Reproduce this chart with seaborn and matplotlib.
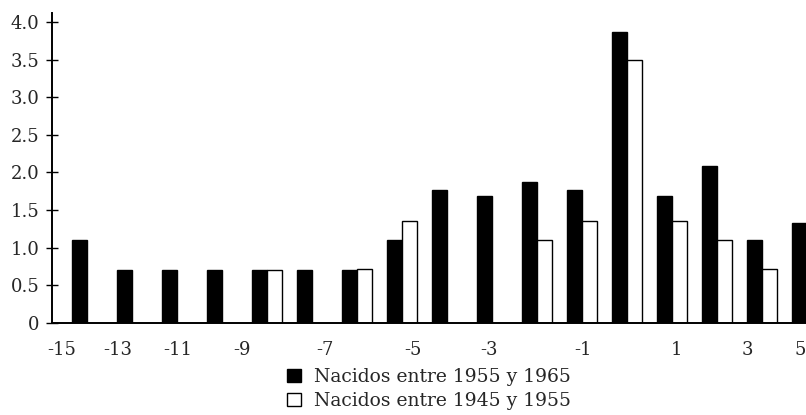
import numpy as np
import pandas as pd
import matplotlib
matplotlib.use("Agg")
import matplotlib.pyplot as plt
import seaborn as sns

# Grupos de barras (17 posiciones en el eje x)
grupos = [str(i) for i in range(17)]
nacidos_55_65 = [1.1, 0.7, 0.7, 0.7, 0.7, 0.7, 0.7, 1.1, 1.77, 1.68, 1.87,
                 1.77, 3.86, 1.68, 2.08, 1.1, 1.33]
nacidos_45_55 = [np.nan, np.nan, np.nan, np.nan, 0.7, np.nan, 0.71, 1.36, np.nan, np.nan, 1.1,
                 1.36, 3.5, 1.36, 1.1, 0.72, np.nan]
serie_a = "Nacidos entre 1955 y 1965"
serie_b = "Nacidos entre 1945 y 1955"
x_labels = ["-15", "-13", "-11", "-9", "-7", "-5", "-3", "-1", "1", "3", "5"]
y_ticks = [0, 0.5, 1.0, 1.5, 2.0, 2.5, 3.0, 3.5, 4.0]
y_labels = ["0", "0.5", "1.0", "1.5", "2.0", "2.5", "3.0", "3.5", "4.0"]

df = pd.DataFrame({
    "grupo": grupos * 2,
    "valor": nacidos_55_65 + nacidos_45_55,
    "serie": [serie_a] * len(grupos) + [serie_b] * len(grupos),
})

sns.set_style("white")
plt.rcParams["font.family"] = ["DejaVu Serif"]

fig, ax = plt.subplots(figsize=(8.06, 4.15), dpi=100)
fig.subplots_adjust(left=0.0645, right=1.0, top=0.969, bottom=0.222)

sns.barplot(data=df, x="grupo", y="valor", hue="serie", order=grupos,
            hue_order=[serie_a, serie_b],
            palette={serie_a: "black", serie_b: "white"},
            edgecolor="black", linewidth=1, width=0.667,
            errorbar=None, ax=ax)

ax.set_xlim(-0.78, 15.98)
ax.set_ylim(0, 4.12)
ax.set_yticks(y_ticks)
ax.set_yticklabels(y_labels, fontsize=13)
tick_pos = [-0.56, 0.69, 2.02, 3.44, 5.29, 7.24, 8.93, 11.02, 13.1, 14.67, 15.84]
ax.set_xticks(tick_pos)
ax.set_xticklabels(x_labels, fontsize=13)
ax.tick_params(axis="x", length=0, pad=13)
ax.tick_params(axis="y", left=True, direction="inout", length=8, width=1,
               pad=5, color="black")
ax.set_xlabel("")
ax.set_ylabel("")

for s in ["top", "right"]:
    ax.spines[s].set_visible(False)
for s in ["left", "bottom"]:
    ax.spines[s].set_color("black")
    ax.spines[s].set_linewidth(1.4)

handles, labels = ax.get_legend_handles_labels()
ax.get_legend().remove()
fig.legend(handles, labels, loc="upper left", bbox_to_anchor=(0.345, 0.135),
           frameon=False, fontsize=13.5, handlelength=0.7, handleheight=0.7,
           handletextpad=0.7, labelspacing=0.3, borderpad=0)

fig.savefig("out.png", dpi=100)
